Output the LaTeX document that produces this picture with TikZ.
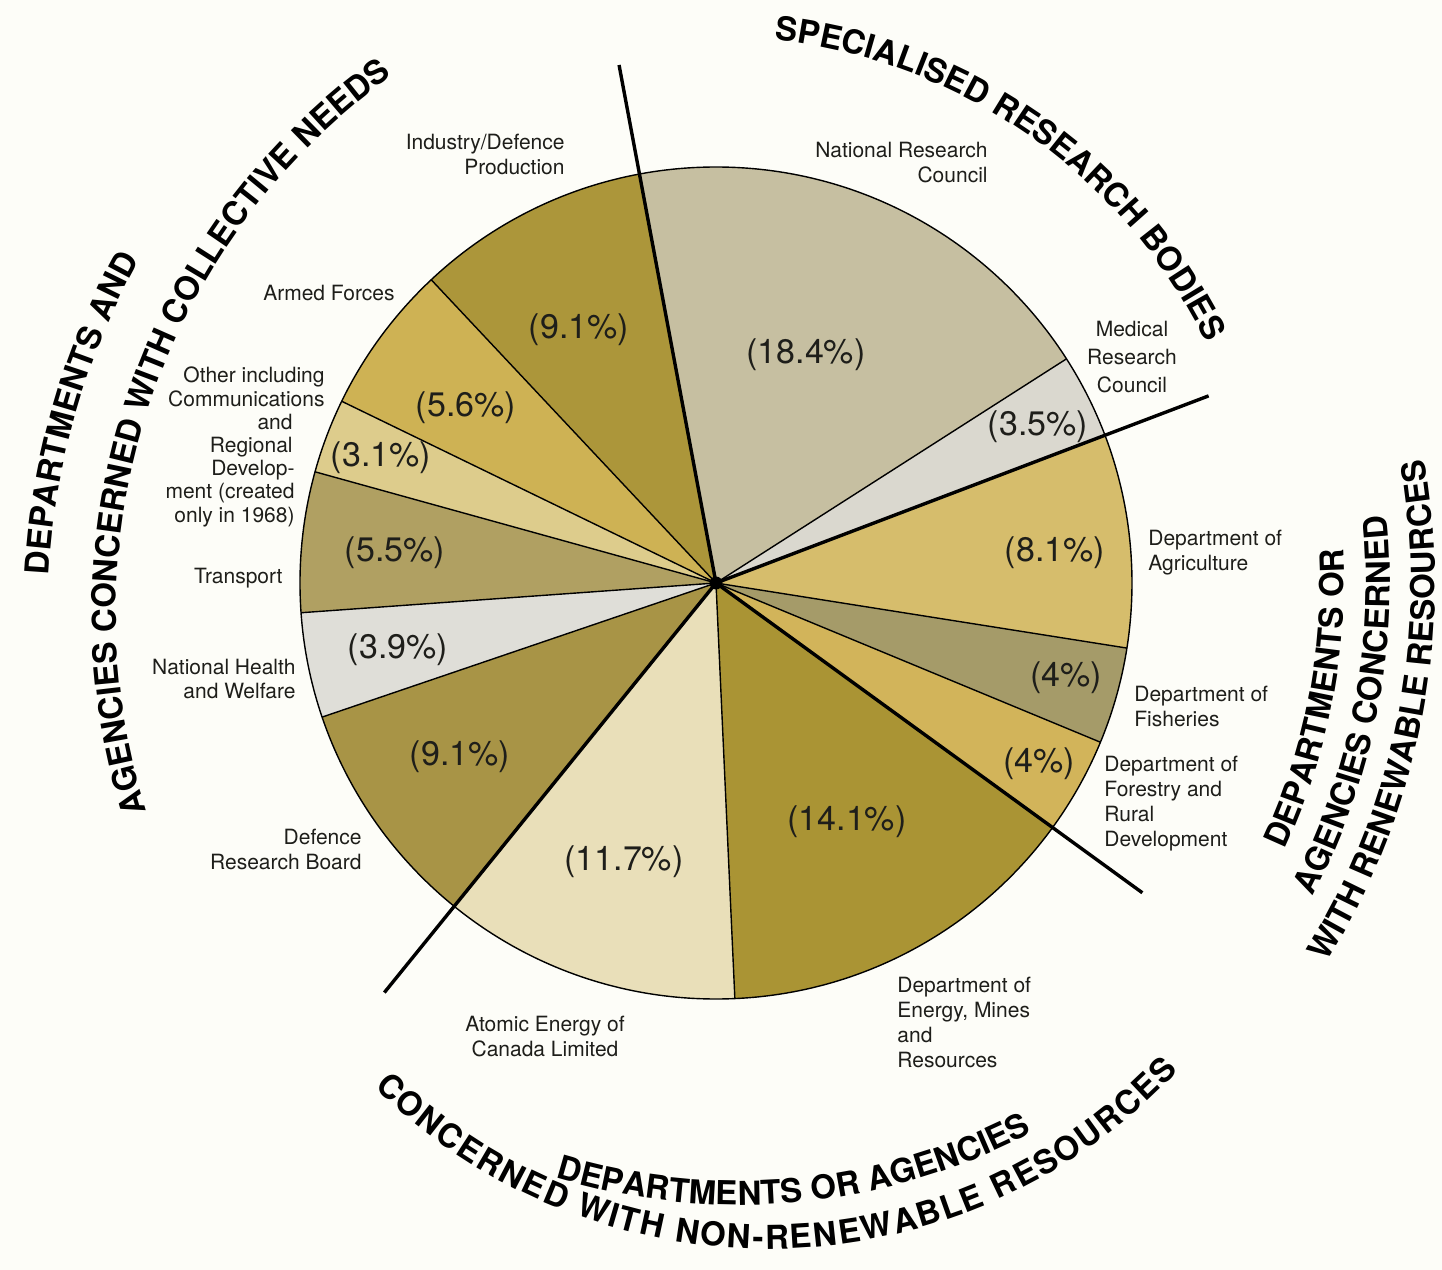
\documentclass[tikz,border=0pt]{standalone}
\usepackage{fontspec}
\setmainfont{TeX Gyre Heros}
\usepackage{tikz}
\usetikzlibrary{decorations.text}
\definecolor{paper}{HTML}{FDFDF8}
\definecolor{inkDark}{HTML}{1E1E1A}
\definecolor{sliceNrc}{HTML}{C6BFA1}
\definecolor{sliceMrc}{HTML}{DAD8CF}
\definecolor{sliceAgr}{HTML}{D6BD6C}
\definecolor{sliceFish}{HTML}{A59B69}
\definecolor{sliceFor}{HTML}{D2B45A}
\definecolor{sliceEmr}{HTML}{AA9434}
\definecolor{sliceAecl}{HTML}{E9DFB9}
\definecolor{sliceDrb}{HTML}{A89446}
\definecolor{sliceNhw}{HTML}{DFDED8}
\definecolor{sliceTrans}{HTML}{B0A062}
\definecolor{sliceOther}{HTML}{DDCC8C}
\definecolor{sliceArmed}{HTML}{CEB254}
\definecolor{sliceInd}{HTML}{AC963A}
\newcommand{\titlefont}{\fontsize{16.5}{18}\selectfont\bfseries}
\tikzset{
  pielabel/.style={font=\fontsize{10.5}{12.5}\selectfont,text=inkDark,inner sep=0pt},
  pctlabel/.style={font=\fontsize{17}{19}\selectfont,text=inkDark,inner sep=0pt},
  thinedge/.style={draw=black,line width=0.7pt},
  thickedge/.style={draw=black,line width=1.7pt},
  arctitle/.style={decorate,decoration={text along path,text align=center,text color=black}},
}
\begin{document}
\begin{tikzpicture}[x=0.5pt,y=0.5pt]
  \useasboundingbox (-716,-687) rectangle (726,583);
  \fill[paper] (-716,-687) rectangle (726,583);
  \coordinate (c) at (0,0);

  % slices, clockwise from the top
  \foreach \a/\b/\col in {100.6/32.6/sliceNrc, 32.6/20.8/sliceMrc, 20.8/-9/sliceAgr,
      -9/-22.5/sliceFish, -22.5/-36/sliceFor, -36/-87.4/sliceEmr, -87.4/-129/sliceAecl,
      -129/-161.2/sliceDrb, -161.2/-175.9/sliceNhw, -175.9/-195.5/sliceTrans,
      -195.5/-205.9/sliceOther, -205.9/-226.8/sliceArmed, -226.8/-259.4/sliceInd} {%
    \fill[\col] (c) -- (\a:416) arc[start angle=\a, end angle=\b, radius=416] -- cycle;
  }
  \foreach \a in {32.6,-9,-22.5,-87.4,-161.2,-175.9,-195.5,-205.9,-226.8} {%
    \draw[thinedge] (c) -- (\a:416);
  }
  \draw[thinedge] (c) circle[radius=416];
  \foreach \a in {100.6,20.8,-36,-129} {%
    \draw[thickedge] (c) -- (\a:527);
  }
  \fill[black] (c) circle[radius=6.5];

  \node[pctlabel] (pNrc)   at (90,228)   {(18.4\%)};
  \node[pctlabel] (pMrc)   at (322,156)  {(3.5\%)};
  \node[pctlabel] (pAgr)   at (339,30)   {(8.1\%)};
  \node[pctlabel] (pFish)  at (350,-95)  {(4\%)};
  \node[pctlabel] (pFor)   at (323,-181) {(4\%)};
  \node[pctlabel] (pEmr)   at (131,-239) {(14.1\%)};
  \node[pctlabel] (pAecl)  at (-92,-279) {(11.7\%)};
  \node[pctlabel] (pDrb)   at (-256,-174){(9.1\%)};
  \node[pctlabel] (pNhw)   at (-318,-67) {(3.9\%)};
  \node[pctlabel] (pTrans) at (-321,30)  {(5.5\%)};
  \node[pctlabel] (pOther) at (-335,125) {(3.1\%)};
  \node[pctlabel] (pArmed) at (-250,175) {(5.6\%)};
  \node[pctlabel] (pInd)   at (-137,253) {(9.1\%)};

  \node[pielabel, anchor=east, align=right] (lInd)   at (-151,429) {Industry/Defence\\Production};
  \node[pielabel, anchor=east, align=right] (lNrc)   at (272,420)  {National Research\\Council};
  \node[pielabel, align=center, font=\fontsize{10.5}{14}\selectfont] (lMrc) at (416,226) {Medical\\Research\\Council};
  \node[pielabel, anchor=west, align=left]  (lAgr)   at (432,30)   {Department of\\Agriculture};
  \node[pielabel, anchor=west, align=left]  (lFish)  at (418,-123) {Department of\\Fisheries};
  \node[pielabel, anchor=west, align=left]  (lFor)   at (388,-221) {Department of\\Forestry and\\Rural\\Development};
  \node[pielabel, anchor=west, align=left]  (lEmr)   at (181,-439) {Department of\\Energy, Mines\\and\\Resources};
  \node[pielabel, align=center]             (lAecl)  at (-171,-453){Atomic Energy of\\Canada Limited};
  \node[pielabel, anchor=east, align=right] (lDrb)   at (-354,-266){Defence\\Research Board};
  \node[pielabel, anchor=east, align=right] (lNhw)   at (-420,-96) {National Health\\and Welfare};
  \node[pielabel, anchor=east]              (lTrans) at (-433,5)   {Transport};
  \node[pielabel, anchor=east, align=right, font=\fontsize{10.5}{11.6}\selectfont] (lOther) at (-391,136)
    {Other including\\Communications\\and\rule{16pt}{0pt}\\Regional\rule{16pt}{0pt}\\Develop-\rule{15pt}{0pt}\\ment (created\rule{15pt}{0pt}\\only in 1968)\rule{15pt}{0pt}};
  \node[pielabel, anchor=east]              (lArmed) at (-321,290) {Armed Forces};

  % group titles round the pie
  \path[arctitle, decoration={text={|\titlefont|SPECIALISED RESEARCH BODIES}}]
    (100:546) arc[start angle=100, end angle=10, radius=546];
  \path[arctitle, shift={(60,-30)}, decoration={text={|\titlefont|DEPARTMENTS AND}}]
    (199:728) arc[start angle=199, end angle=129, radius=728];
  \path[arctitle, shift={(60,-30)}, decoration={text={|\titlefont|AGENCIES CONCERNED WITH COLLECTIVE NEEDS}}]
    (216:660) arc[start angle=216, end angle=107, radius=660];
  \path[arctitle, decoration={text={|\titlefont|DEPARTMENTS OR}}]
    (-51:628) arc[start angle=-51, end angle=29, radius=628];
  \path[arctitle, decoration={text={|\titlefont|AGENCIES CONCERNED}}]
    (-51:674) arc[start angle=-51, end angle=29, radius=674];
  \path[arctitle, decoration={text={|\titlefont|WITH RENEWABLE RESOURCES}}]
    (-51:719) arc[start angle=-51, end angle=29, radius=719];
  \path[arctitle, shift={(23,7)}, decoration={text={|\titlefont|DEPARTMENTS OR AGENCIES}}]
    (-134.6:629) arc[start angle=-134.6, end angle=-34.6, radius=629];
  \path[arctitle, shift={(52,-106)}, decoration={text align=fit to path, text={|\titlefont|CONCERNED WITH NON-RENEWABLE RESOURCES}}]
    (-134.7:560) arc[start angle=-134.7, end angle=-42.9, radius=560];
\end{tikzpicture}
\end{document}
